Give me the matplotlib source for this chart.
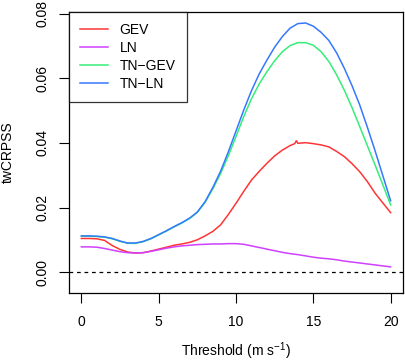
import matplotlib
matplotlib.use("Agg")
import matplotlib.pyplot as plt

plt.rcParams['font.family'] = ['Liberation Sans', 'DejaVu Sans']
plt.rcParams['mathtext.fontset'] = 'custom'
plt.rcParams['mathtext.rm'] = 'Liberation Sans'
plt.rcParams['mathtext.it'] = 'Liberation Sans:italic'
plt.rcParams['mathtext.default'] = 'regular'

thr = [0, 0.5, 1, 1.5, 2, 2.5, 3, 3.5, 4, 4.5, 5, 5.5, 6, 6.5, 7, 7.5, 8, 8.5, 9, 9.5,
       10, 10.5, 11, 11.5, 12, 12.5, 13, 13.5, 14, 14.5, 15, 15.5, 16, 16.5, 17, 17.5,
       18, 18.5, 19, 19.5, 20]

tn_ln = [0.0112, 0.0112, 0.0111, 0.0109, 0.0104, 0.0096, 0.0090, 0.0090, 0.0095, 0.0104,
         0.0116, 0.0128, 0.0141, 0.0153, 0.0167, 0.0186, 0.0218, 0.0262, 0.0312, 0.0372,
         0.0437, 0.0502, 0.0562, 0.0614, 0.0657, 0.0697, 0.0730, 0.0756, 0.0770, 0.0772,
         0.0762, 0.0743, 0.0718, 0.0680, 0.0632, 0.0578, 0.0518, 0.0448, 0.0375, 0.0298,
         0.0221]

tn_gev = [0.0111, 0.0111, 0.0110, 0.0108, 0.0103, 0.0095, 0.0089, 0.0089, 0.0094, 0.0103,
          0.0115, 0.0127, 0.0140, 0.0152, 0.0166, 0.0185, 0.0216, 0.0258, 0.0305, 0.0360,
          0.0420, 0.0482, 0.0537, 0.0583, 0.0621, 0.0655, 0.0683, 0.0702, 0.0711, 0.0711,
          0.0703, 0.0683, 0.0653, 0.0612, 0.0564, 0.0510, 0.0451, 0.0391, 0.0331, 0.0270,
          0.0208]

thr_gev = [0, 0.5, 1, 1.5, 2, 2.5, 3, 3.5, 4, 4.5, 5, 5.5, 6, 6.5, 7, 7.5, 8, 8.5, 9, 9.5,
           10, 10.5, 11, 11.5, 12, 12.5, 13, 13.5, 13.8, 13.9, 14, 14.5, 15, 15.5, 16, 16.5,
           17, 17.5, 18, 18.5, 19, 19.5, 20]
gev = [0.0104, 0.0104, 0.0103, 0.0098, 0.0082, 0.0070, 0.0062, 0.0059, 0.0060, 0.0065,
       0.0071, 0.0077, 0.0083, 0.0087, 0.0092, 0.0100, 0.0112, 0.0126, 0.0146, 0.0178,
       0.0213, 0.0250, 0.0285, 0.0312, 0.0337, 0.0360, 0.0378, 0.0392, 0.0398, 0.0407,
       0.0399, 0.0401, 0.0398, 0.0394, 0.0388, 0.0374, 0.0358, 0.0336, 0.0311, 0.0280,
       0.0244, 0.0214, 0.0184]

ln = [0.0078, 0.0078, 0.0077, 0.0073, 0.0068, 0.0063, 0.0060, 0.0059, 0.0060, 0.0064,
      0.0069, 0.0074, 0.0078, 0.0081, 0.0083, 0.0085, 0.0086, 0.0087, 0.0087, 0.0088,
      0.0088, 0.0086, 0.0081, 0.0076, 0.0071, 0.0066, 0.0061, 0.0057, 0.0054, 0.0050,
      0.0046, 0.0043, 0.0041, 0.0038, 0.0034, 0.0031, 0.0028, 0.0025, 0.0022, 0.0019,
      0.0016]

labels = ["GEV", "LN", "TN\u2212GEV", "TN\u2212LN"]
colors = ["#FF3535", "#D040FF", "#35EE78", "#3578FF"]
xticks = [0, 5, 10, 15, 20]
yticks = [0.00, 0.02, 0.04, 0.06, 0.08]

fig = plt.figure(figsize=(4.05, 3.63), dpi=100)
ax = fig.add_axes([69/405, 1 - 293/363, (403-69)/405, (293-12)/363])

ax.plot(thr_gev, gev, color=colors[0], lw=1.1, label=labels[0])
ax.plot(thr, ln, color=colors[1], lw=1.1, label=labels[1])
ax.plot(thr, tn_gev, color=colors[2], lw=1.1, label=labels[2])
ax.plot(thr, tn_ln, color=colors[3], lw=1.1, label=labels[3])
ax.axhline(0, color='black', lw=0.9, ls=(0, (3, 3)))

ax.set_xlim(-0.8, 20.8)
ax.set_ylim(-0.0065, 0.0806)
ax.set_xticks(xticks)
ax.set_xticklabels([str(v) for v in xticks])
ax.set_yticks(yticks)
ax.set_yticklabels(["%.2f" % v for v in yticks], rotation=90, va='center')
ax.tick_params(direction='out', length=7, width=0.8, labelsize=10, color='black')
ax.tick_params(axis='x', pad=9)
ax.tick_params(axis='y', pad=7)
for s in ax.spines.values():
    s.set_linewidth(0.9)
    s.set_color('black')

ax.set_xlabel("Threshold (m s$^{-1}$)", fontsize=10, va='center')
ax.xaxis.set_label_coords(0.5, (293 - 351) / 281)
ax.set_ylabel("twCRPSS", fontsize=10, va='center')
ax.yaxis.set_label_coords((8 - 69) / 334, 0.5)

leg = ax.legend(loc='upper left', fontsize=10, frameon=True, fancybox=False,
                edgecolor='black', borderaxespad=0, handlelength=2.0,
                handletextpad=0.85, borderpad=0.8, labelspacing=0.28)
leg.get_frame().set_linewidth(0.9)

fig.savefig("out.png", dpi=100)
